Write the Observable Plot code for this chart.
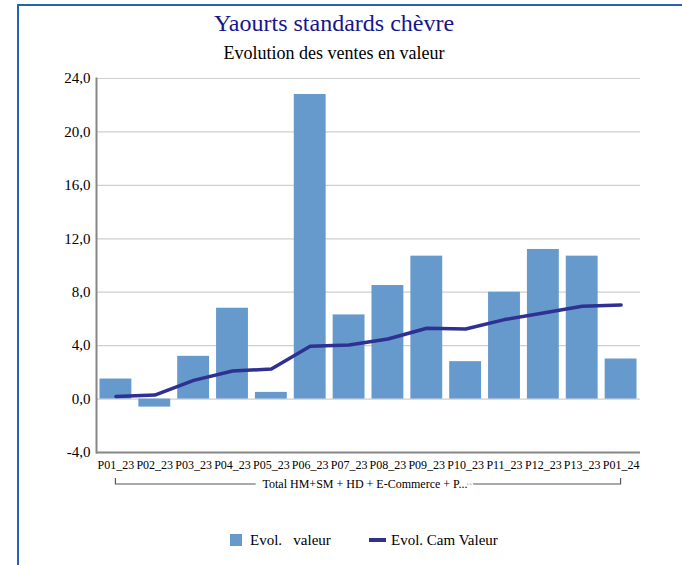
<!DOCTYPE html>
<html>
<head>
<meta charset="utf-8">
<script src="https://cdn.jsdelivr.net/npm/d3@7"></script>
<script src="https://cdn.jsdelivr.net/npm/@observablehq/plot@0.6"></script>
<style>
  body { margin: 0; background: #fff; }
  #wrap { position: relative; width: 682px; height: 565px; overflow: hidden; font-family: "Liberation Serif", serif; }
  #frame { position: absolute; left: 17px; top: 4px; right: -2px; bottom: -2px; border-left: 2px solid #2363b0; border-top: 2px solid #2363b0; }
  #title { position: absolute; top: 9px; left: 0; width: 668px; text-align: center; font-size: 24px; color: #16168c; line-height: 28px; }
  #subtitle { position: absolute; top: 42px; left: 0; width: 668px; text-align: center; font-size: 18px; color: #000; line-height: 22px; }
  #chart { position: absolute; top: 62px; left: 0; }
  #chart svg, #chart svg text { font-family: "Liberation Serif", serif; }
  #legend { position: absolute; top: 531px; left: 0; width: 682px; height: 20px; font-size: 15px; color: #000; }
  .lg { position: absolute; top: 0; line-height: 18px; white-space: pre; }
</style>
</head>
<body>
<div id="wrap">
  <div id="frame"></div>
  <div id="title"></div>
  <div id="subtitle"></div>
  <div id="chart"></div>
  <div id="legend"></div>
</div>
<script>
const titleText = "Yaourts standards chèvre";
const subtitleText = "Evolution des ventes en valeur";
const groupLabel = "Total HM+SM + HD + E-Commerce + P...";
const categories = ["P01_23","P02_23","P03_23","P04_23","P05_23","P06_23","P07_23","P08_23","P09_23","P10_23","P11_23","P12_23","P13_23","P01_24"];
const evolValeur = [1.5, -0.6, 3.2, 6.8, 0.5, 22.8, 6.3, 8.5, 10.7, 2.8, 8.0, 11.2, 10.7, 3.0];
const evolCam = [0.2, 0.3, 1.4, 2.1, 2.25, 3.95, 4.05, 4.5, 5.3, 5.25, 5.95, 6.45, 6.95, 7.05];
const yTicks = [-4, 0, 4, 8, 12, 16, 20, 24];
const seriesNames = ["Evol.   valeur", "Evol. Cam Valeur"];
const barColor = "#6699cc";
const lineColor = "#2e3192";

document.getElementById("title").textContent = titleText;
document.getElementById("subtitle").textContent = subtitleText;

const data = categories.map((c, i) => ({cat: c, val: evolValeur[i], cam: evolCam[i]}));
const fmt = d => d.toFixed(1).replace(".", ",");

const W = 682, H = 440;
const plot = Plot.plot({
  width: W,
  height: H,
  marginLeft: 96,
  marginRight: 42,
  marginTop: 16,
  marginBottom: 50,
  style: "font-family: 'Liberation Serif', serif; background: transparent; color: #000;",
  x: {domain: categories, paddingInner: 0.18, paddingOuter: 0.09, round: false, label: null},
  y: {domain: [-4, 24], label: null},
  marks: [
    Plot.gridY(yTicks, {stroke: "#cfcfcf", strokeOpacity: 1, strokeWidth: 1.2}),
    Plot.barY(data, {x: "cat", y: "val", fill: barColor}),
    Plot.lineY(data, {x: "cat", y: "cam", stroke: lineColor, strokeWidth: 3.5, strokeLinejoin: "round"}),
    Plot.ruleY([-4], {stroke: "#868686", strokeWidth: 2}),
    Plot.frame({anchor: "left", stroke: "#868686", strokeWidth: 2}),
    Plot.axisY({ticks: yTicks, tickFormat: fmt, tickSize: 0, tickPadding: 6, fontSize: 15, label: null}),
    Plot.axisX({tickSize: 0, tickPadding: 8, fontSize: 12, label: null})
  ]
});
document.getElementById("chart").appendChild(plot);

// group bracket under the category labels, positioned via Plot's x scale
const xs = plot.scale("x");
const cx = v => xs.apply(v) + xs.bandwidth / 2;
const x0 = cx(categories[0]), x1 = cx(categories[categories.length - 1]);
const by = 422, bt = 416;
const svg = d3.select(plot);
const g = svg.append("g");
g.append("path")
  .attr("d", `M${x0},${bt}V${by}H${x1}V${bt}`)
  .attr("fill", "none").attr("stroke", "#555").attr("stroke-width", 1.2);
g.append("text")
  .attr("x", (x0 + x1) / 2 - 3).attr("y", by).attr("dy", "0.32em")
  .attr("text-anchor", "middle")
  .attr("font-size", 12)
  .attr("fill", "#000")
  .attr("stroke", "#fff").attr("stroke-width", 14).attr("paint-order", "stroke")
  .text(groupLabel);

// legend
const lg = document.getElementById("legend");
lg.innerHTML = `
  <div style="position:absolute;left:230px;top:3px;width:12px;height:12px;background:${barColor}"></div>
  <div class="lg" style="left:250px">${seriesNames[0]}</div>
  <div style="position:absolute;left:369px;top:7px;width:17px;height:4px;background:${lineColor}"></div>
  <div class="lg" style="left:391px">${seriesNames[1]}</div>`;
</script>
</body>
</html>
